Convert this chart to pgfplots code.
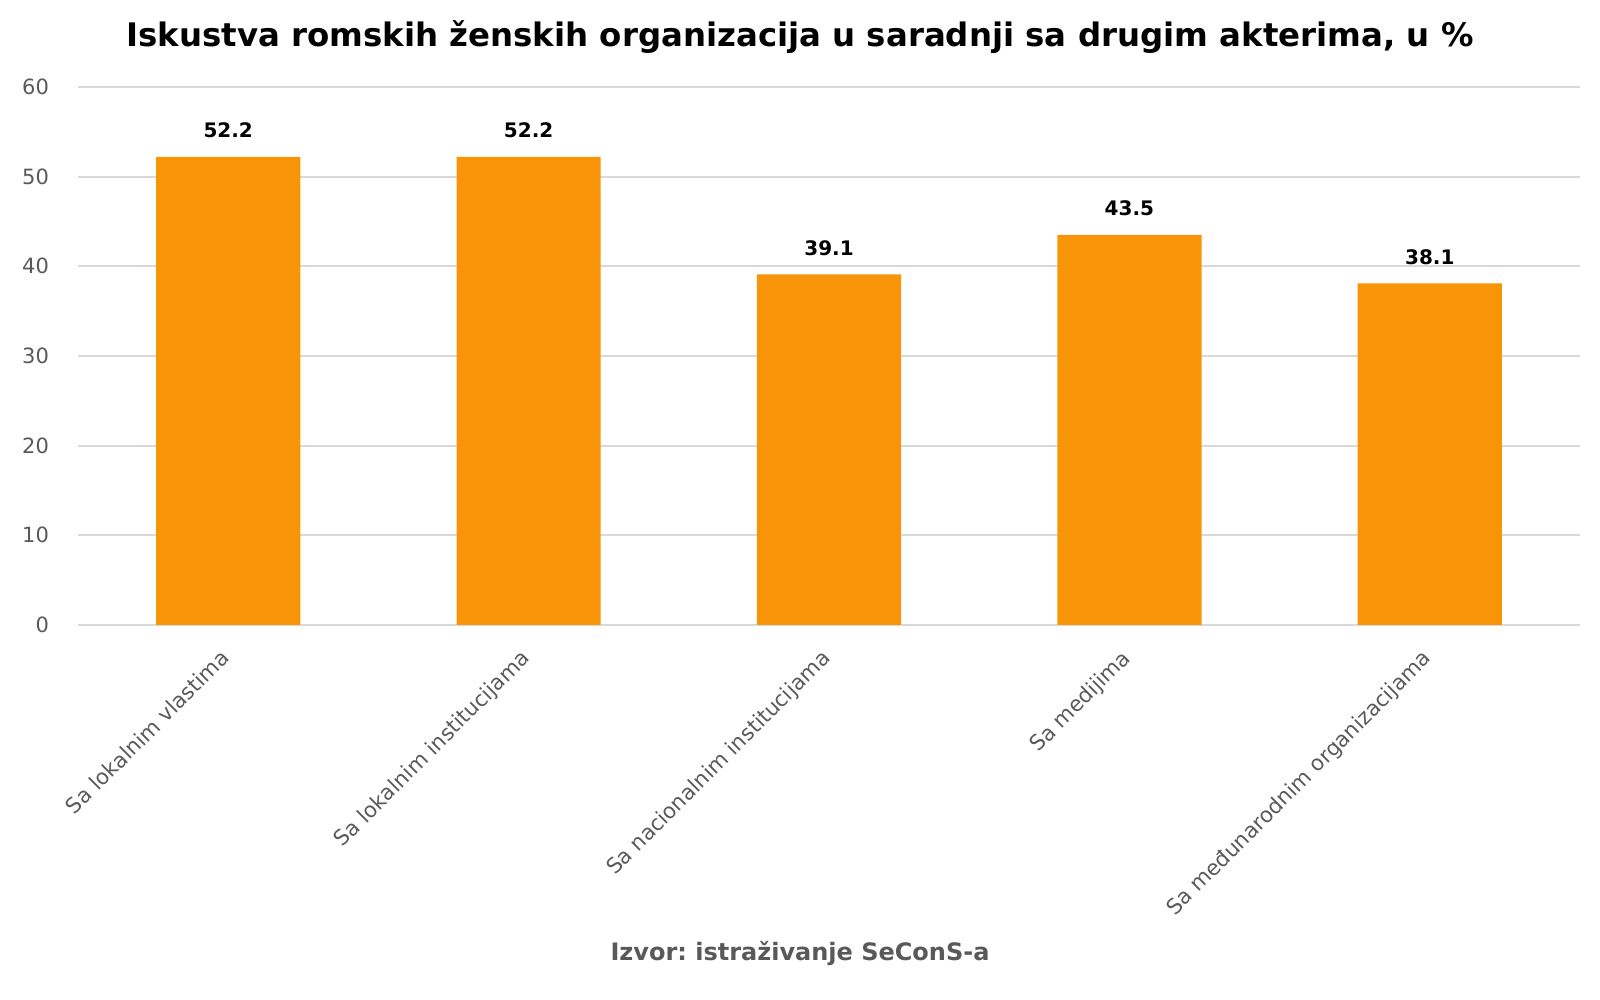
\documentclass[border=0pt]{standalone}
\usepackage{fontspec}
\setmainfont{DejaVu Sans}
\usepackage{pgfplots}
\pgfplotsset{compat=1.18}
\definecolor{barorange}{HTML}{F79407}
\definecolor{gridgray}{HTML}{D9D9D9}
\definecolor{ticktext}{HTML}{595959}
\frenchspacing
\begin{document}
\begin{tikzpicture}
\path[use as bounding box] (0,0) rectangle (800pt,500pt);
\begin{axis}[
  at={(39pt,187.5pt)}, anchor=south west,
  scale only axis, width=751pt, height=269pt,
  ybar, bar width=0.48,
  xmin=-0.5, xmax=4.5, ymin=0, ymax=60,
  ytick={0,10,...,60},
  xtick={0,1,2,3,4},
  xticklabels={Sa lokalnim vlastima, Sa lokalnim institucijama, Sa nacionalnim institucijama, Sa medijima, Sa međunarodnim organizacijama},
  axis line style={draw=none},
  major tick length=0pt,
  ymajorgrids, grid style={gridgray, line width=1pt},
  /pgf/number format/assume math mode=true,
  yticklabel style={font=\fontsize{10.5}{12}\selectfont, text=ticktext, xshift=-11pt},
  xticklabel style={font=\fontsize{10.6}{12}\selectfont, text=ticktext, rotate=45, anchor=north east, xshift=-8pt, yshift=-1.5pt},
  nodes near coords,
  nodes near coords style={font=\bfseries\fontsize{10}{12}\selectfont, text=black, anchor=south, yshift=6pt, /pgf/number format/fixed, /pgf/number format/fixed zerofill, /pgf/number format/precision=1},
]
\addplot[fill=barorange, draw=none] coordinates {(0,52.2) (1,52.2) (2,39.1) (3,43.5) (4,38.1)};
\end{axis}
\node[font=\bfseries\fontsize{16.2}{19}\selectfont] at (400pt,481.5pt) {Iskustva romskih ženskih organizacija u saradnji sa drugim akterima, u \%};
\node[font=\bfseries\fontsize{12}{14}\selectfont, text=ticktext] at (400pt,23.5pt) {Izvor: istraživanje SeConS-a};
\end{tikzpicture}
\end{document}
